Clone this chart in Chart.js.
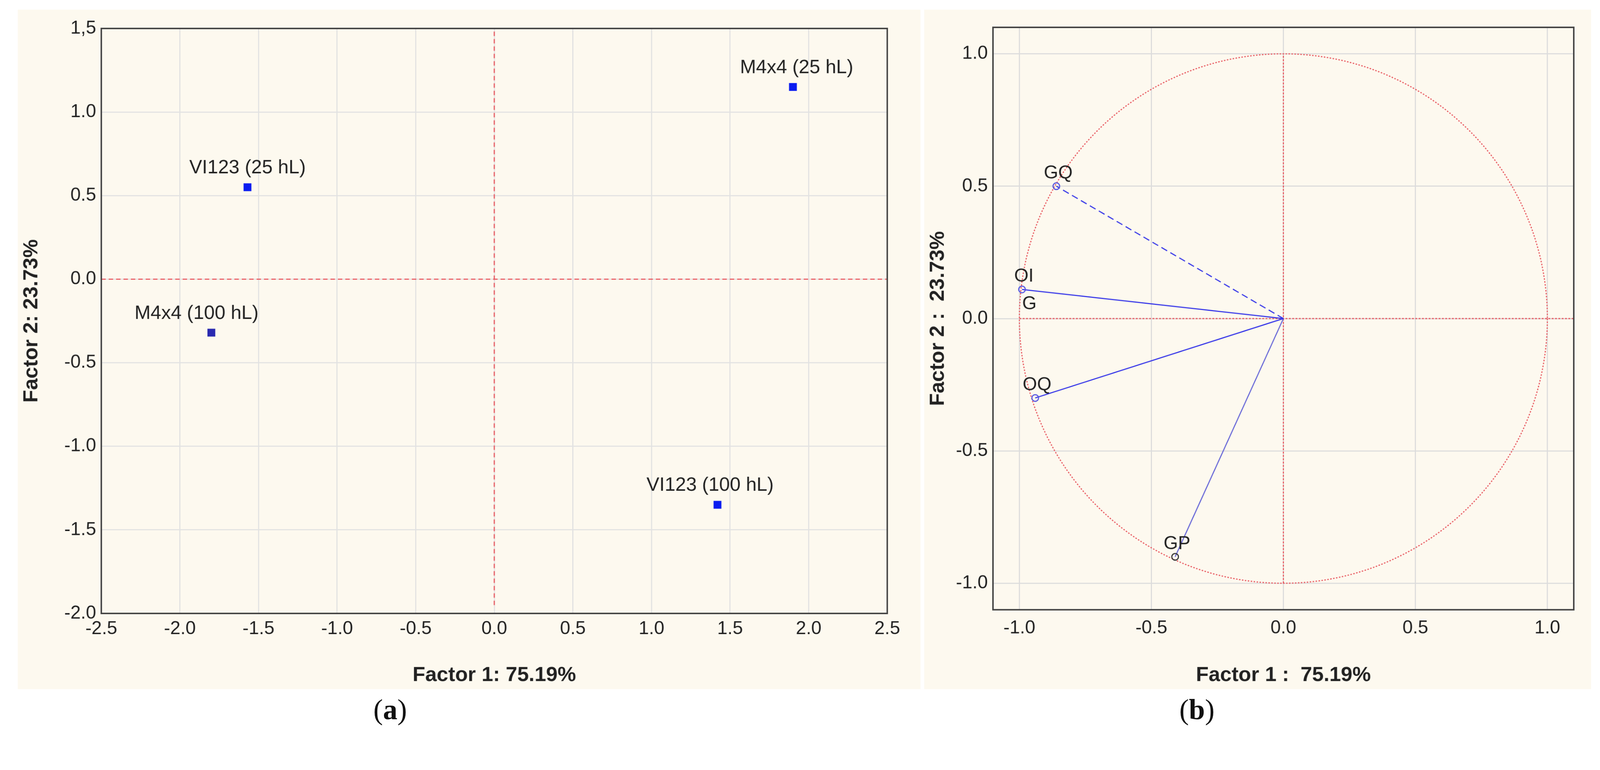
<!DOCTYPE html>
<html><head><meta charset="utf-8">
<script src="https://cdn.jsdelivr.net/npm/chart.js@4.4.0/dist/chart.umd.min.js"></script>
<style>
html,body{margin:0;background:#fff;overflow:hidden}
#wrap{width:4328px;height:1972px;position:relative;transform-origin:0 0}
.panel{position:absolute;background:#fdf9ef}
.cap{position:absolute;font-family:"Liberation Serif",serif;font-size:78px;color:#111}
</style></head><body>
<div id="wrap">
<div class="panel" style="left:48px;top:26px;width:2442px;height:1839px"><canvas id="a"></canvas></div>
<div class="panel" style="left:2500px;top:26px;width:1804px;height:1839px"><canvas id="b"></canvas></div>
<div class="cap" style="left:1010px;top:1875px">(<b>a</b>)</div>
<div class="cap" style="left:3190px;top:1875px">(<b>b</b>)</div>
</div>
<script>
// Panel (a): factor scores
const obsLabels = ["M4x4 (25 hL)", "VI123 (25 hL)", "M4x4 (100 hL)", "VI123 (100 hL)"];
const obsF1 = [1.90, -1.57, -1.80, 1.42];
const obsF2 = [1.15, 0.55, -0.32, -1.35];
const aXTicks = [-2.5,-2.0,-1.5,-1.0,-0.5,0.0,0.5,1.0,1.5,2.0,2.5];
const aYTicks = [-2.0,-1.5,-1.0,-0.5,0.0,0.5,1.0,1.5];
// Panel (b): variable loadings
const varLabels = ["GQ", "OI", "OQ", "GP"];
const varF1 = [-0.86, -0.99, -0.94, -0.41];
const varF2 = [0.50, 0.11, -0.30, -0.90];
const bTicks = [-1.0,-0.5,0.0,0.5,1.0];

const sc = Math.min(1, window.innerWidth/4328, window.innerHeight/1972);
if (sc < 1) document.getElementById('wrap').style.transform = 'scale(' + sc + ')';

Chart.defaults.animation = false;
Chart.defaults.font.family = "Liberation Sans, Arial, sans-serif";
Chart.defaults.color = "#222";

const zeroLines = {
  id:'zero',
  beforeDatasetsDraw(c, args, o){
    const ctx=c.ctx, x=c.scales.x, y=c.scales.y;
    ctx.save(); ctx.strokeStyle='#e8585f'; ctx.lineWidth=3; ctx.setLineDash(o.dash||[12,8]);
    const x0=x.getPixelForValue(0), y0=y.getPixelForValue(0);
    const ext=o.ext||[x.min,x.max,y.min,y.max];
    ctx.beginPath();
    ctx.moveTo(x.getPixelForValue(ext[0]),y0); ctx.lineTo(x.getPixelForValue(ext[1]),y0);
    ctx.moveTo(x0,y.getPixelForValue(ext[2])); ctx.lineTo(x0,y.getPixelForValue(ext[3]));
    ctx.stroke();
    if(o.circle){
      const r=Math.abs(x.getPixelForValue(1)-x0), ry=Math.abs(y.getPixelForValue(1)-y0);
      ctx.setLineDash([4,4]); ctx.beginPath(); ctx.ellipse(x0,y0,r,ry,0,0,Math.PI*2); ctx.stroke();
    }
    ctx.restore();
  }
};
const labelsPlug = {
  id:'lbl',
  afterDatasetsDraw(c, args, o){
    const ctx=c.ctx, x=c.scales.x, y=c.scales.y;
    ctx.save(); ctx.font=o.font; ctx.fillStyle='#222'; ctx.textAlign='center'; ctx.textBaseline='bottom';
    o.items.forEach(it=>{
      ctx.fillText(it.t, x.getPixelForValue(it.x)+(it.dx||0), y.getPixelForValue(it.y)+(it.dy||0));
    });
    ctx.restore();
  }
};
const frame = {
  id:'frame',
  afterDraw(c){ const a=c.chartArea, ctx=c.ctx; ctx.save(); ctx.strokeStyle='#444'; ctx.lineWidth=4;
    ctx.strokeRect(a.left,a.top,a.right-a.left,a.bottom-a.top); ctx.restore(); }
};
function fix(w){ return function(s){ if(s.axis==='y') s.width=w; else s.height=w; }; }

new Chart(document.getElementById('a'), {
  type:'scatter',
  data:{datasets:[{data:obsF1.map((v,i)=>({x:v,y:obsF2[i]})), pointStyle:'rect', pointRadius:15,
    backgroundColor:['#0a1cf0','#0a1cf0','#2a2ab0','#0a1cf0'], borderWidth:0}]},
  options:{responsive:true, maintainAspectRatio:false,
    layout:{padding:{top:51,right:90,left:0,bottom:0}},
    plugins:{legend:{display:false},tooltip:{enabled:false},
      zero:{ext:[-2.5,2.5,-1.95,1.5]},
      lbl:{font:'52px Liberation Sans, Arial', items:obsF1.map((v,i)=>({t:obsLabels[i],x:v,y:obsF2[i],dy:-26,dx:[10,0,-40,-20][i]}))}},
    scales:{
      x:{type:'linear',min:-2.5,max:2.5,afterBuildTicks(s){s.ticks=aXTicks.map(v=>({value:v}));},
        afterFit:fix(205), grid:{color:'#e2e2e2',lineWidth:3,drawTicks:false}, border:{display:false},
        ticks:{font:{size:50},padding:12,callback:v=>v.toFixed(1)},
        title:{display:true,text:'Factor 1: 75.19%',font:{size:56,weight:'bold'},padding:{top:24}}},
      y:{type:'linear',min:-2.0,max:1.5,afterBuildTicks(s){s.ticks=aYTicks.map(v=>({value:v}));},
        afterFit:fix(226), grid:{color:'#e2e2e2',lineWidth:3,drawTicks:false}, border:{display:false},
        ticks:{font:{size:50},padding:14,callback:v=>v===1.5?'1,5':v.toFixed(1)},
        title:{display:true,text:'Factor 2: 23.73%',font:{size:56,weight:'bold'},padding:{bottom:14}}}
    }},
  plugins:[zeroLines,labelsPlug,frame]
});

const vecSets = varF1.map((v,i)=>({type:'line', data:[{x:0,y:0},{x:v,y:varF2[i]}],
  borderColor:i===3?'#6a6ad8':'#3a3ae8', borderWidth:3, borderDash:i===0?[18,10]:[],
  pointRadius:[0,9], pointBorderColor:i===3?'#333':'#5050e0', pointBackgroundColor:'rgba(0,0,0,0)', pointBorderWidth:3}));
new Chart(document.getElementById('b'), {
  type:'scatter',
  data:{datasets:vecSets},
  options:{responsive:true, maintainAspectRatio:false,
    layout:{padding:{top:48,right:47,left:0,bottom:0}},
    plugins:{legend:{display:false},tooltip:{enabled:false},
      zero:{dash:[5,4],circle:true,ext:[-1.0,1.1,-1.0,1.0]},
      lbl:{font:'50px Liberation Sans, Arial', items:[
        {t:'GQ',x:varF1[0],y:varF2[0],dy:-10,dx:5},
        {t:'OI',x:varF1[1],y:varF2[1],dy:-10,dx:5},
        {t:'G',x:varF1[1],y:varF2[1],dy:65,dx:20},
        {t:'OQ',x:varF1[2],y:varF2[2],dy:-10,dx:5},
        {t:'GP',x:varF1[3],y:varF2[3],dy:-10,dx:5}]}},
    scales:{
      x:{type:'linear',min:-1.1,max:1.1,afterBuildTicks(s){s.ticks=bTicks.map(v=>({value:v}));},
        afterFit:fix(215), grid:{color:'#dcdcdc',lineWidth:3,drawTicks:false}, border:{display:false},
        ticks:{font:{size:50},padding:20,callback:v=>v.toFixed(1)},
        title:{display:true,text:'Factor 1 :  75.19%',font:{size:56,weight:'bold'},padding:{top:20}}},
      y:{type:'linear',min:-1.1,max:1.1,afterBuildTicks(s){s.ticks=bTicks.map(v=>({value:v}));},
        afterFit:fix(186), grid:{color:'#dcdcdc',lineWidth:3,drawTicks:false}, border:{display:false},
        ticks:{font:{size:50},padding:14,callback:v=>v.toFixed(1)},
        title:{display:true,text:'Factor 2 :  23.73%',font:{size:56,weight:'bold'},padding:{bottom:6}}}
    }},
  plugins:[zeroLines,labelsPlug,frame]
});
</script></body></html>
